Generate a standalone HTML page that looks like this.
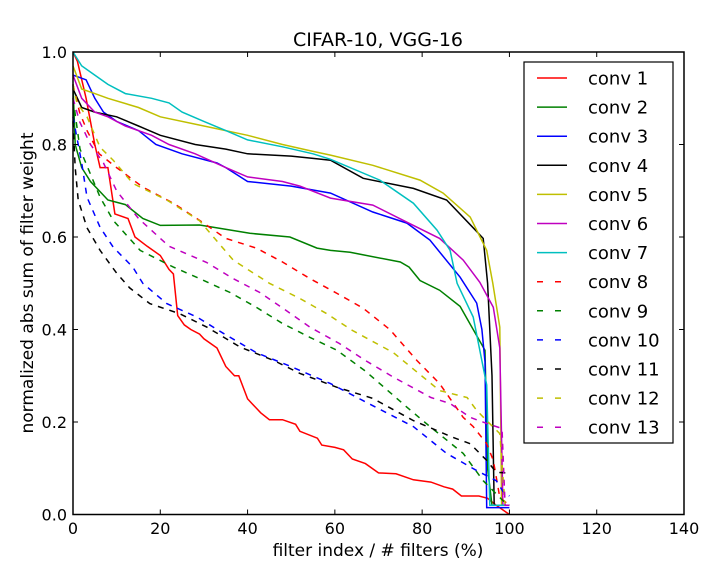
<!DOCTYPE html>
<html><head><meta charset="utf-8"><style>
html,body{margin:0;padding:0;background:#fff;}
svg text{font-family:"DejaVu Sans","Liberation Sans",sans-serif;fill:#000;}
</style></head><body>
<svg id="chart" width="720" height="563" viewBox="0 0 720 563" xmlns="http://www.w3.org/2000/svg">
<rect width="720" height="563" fill="#fff"/>
<text x="378" y="46" font-size="19" text-anchor="middle">CIFAR-10, VGG-16</text>
<text x="378" y="556" font-size="17" text-anchor="middle">filter index / # filters (%)</text>
<text transform="translate(33,283) rotate(-90)" font-size="17" text-anchor="middle">normalized abs sum of filter weight</text>
<g id="plot"></g>
<rect x="73" y="52" width="611" height="462.5" fill="none" stroke="#000" stroke-width="1.5"/>
<g id="ticks"></g>
<g id="legend"></g>
</svg>
<script>
const xTicks=[0,20,40,60,80,100,120,140];
const yTicks=[0.0,0.2,0.4,0.6,0.8,1.0];
const seriesNames=["conv 1","conv 2","conv 3","conv 4","conv 5","conv 6","conv 7","conv 8","conv 9","conv 10","conv 11","conv 12","conv 13"];
const seriesColors=["#ff0000","#008000","#0000ff","#000000","#bfbf00","#bf00bf","#00bfbf","#ff0000","#008000","#0000ff","#000000","#bfbf00","#bf00bf"];
const seriesDashed=[false,false,false,false,false,false,false,true,true,true,true,true,true];

const x1=[0,1,3,5,6.2,8,9.6,12.6,14.2,17,20,22,23,24,25.5,27,29,30,33,35,37,38,40,41,43,45,48,51,52,56,57,60,62,64,67,70,74,78,82,85,87,89,93,95,97,100];
const y1=[1.0,0.98,0.9,0.8,0.75,0.75,0.65,0.64,0.6,0.58,0.56,0.53,0.52,0.43,0.41,0.4,0.39,0.38,0.36,0.32,0.3,0.3,0.25,0.24,0.22,0.205,0.205,0.195,0.18,0.165,0.15,0.145,0.14,0.12,0.11,0.09,0.088,0.075,0.07,0.06,0.055,0.04,0.04,0.035,0.02,0.0];
const x2=[0,0.5,2,4,6,8,12,16,20,29,40.5,49.7,55.9,59,63.5,75,77,79.5,84,88.7,91.7,94.4,95,96,100];
const y2=[0.93,0.8,0.75,0.72,0.7,0.68,0.67,0.64,0.625,0.626,0.608,0.6,0.576,0.571,0.567,0.546,0.535,0.506,0.485,0.45,0.4,0.355,0.1,0.02,0.02];
const x3=[0,3,5,7,10,15,19,25,33,35,40,50,59,68.7,76.5,81.8,88.7,92.5,93.7,94.4,94.8,100];
const y3=[0.95,0.94,0.9,0.87,0.85,0.83,0.8,0.78,0.76,0.75,0.72,0.71,0.695,0.654,0.63,0.593,0.513,0.457,0.4,0.33,0.015,0.015];
const x4=[0,2,5,10,15,20,28,35,40,50,55,59,66.5,78,85.6,91.7,94,95,96,96.5,100];
const y4=[0.92,0.88,0.87,0.86,0.84,0.82,0.8,0.79,0.78,0.775,0.77,0.766,0.727,0.705,0.68,0.62,0.597,0.5,0.3,0.02,0.02];
const x5=[0,2,5,8,15,20,30,40,48,55,59,68.7,79.5,84.8,91,94.8,96.2,97.8,98.2,100];
const y5=[0.97,0.92,0.91,0.9,0.88,0.86,0.84,0.82,0.8,0.785,0.777,0.755,0.723,0.695,0.643,0.571,0.5,0.405,0.02,0.02];
const x6=[0,2,5,8,12,18,22,28,35,40,48,52,59,68.7,76.5,84,89.4,93.2,96.3,97.8,98.5,100];
const y6=[0.95,0.9,0.87,0.86,0.84,0.82,0.8,0.78,0.75,0.73,0.72,0.71,0.684,0.669,0.632,0.597,0.55,0.502,0.448,0.36,0.02,0.02];
const x7=[0,2,5,8,12,18,22,25,30,35,40,48,55,59,70.3,78,83.4,86.4,88,91.7,94.8,95.5,100];
const y7=[1.0,0.97,0.95,0.93,0.91,0.9,0.89,0.87,0.85,0.83,0.81,0.795,0.78,0.768,0.723,0.673,0.615,0.571,0.5,0.427,0.28,0.02,0.02];
const x8=[0,1.5,3.2,6,10,16,23,29,35,42,48,54.3,60.5,66.5,72.6,78.8,84,89.4,91.7,94.8,96.3,97.8,100];
const y8=[0.93,0.87,0.83,0.78,0.75,0.708,0.673,0.636,0.597,0.576,0.546,0.51,0.478,0.446,0.4,0.333,0.283,0.21,0.19,0.153,0.117,0.037,0.02];
const x9=[0,1.6,6.2,9.2,15.4,23,29,36,42,48,54.3,60.5,67,76.5,81.8,89.4,94,98.5,100];
const y9=[0.9,0.79,0.686,0.636,0.571,0.535,0.51,0.48,0.448,0.413,0.383,0.355,0.31,0.232,0.19,0.132,0.073,0.03,0.02];
const x10=[0,2,3.2,6.2,9.2,13.7,16,21.5,28.4,34.4,42,50.4,59,66.5,78,85.6,92.5,97,98.5,100];
const y10=[0.86,0.76,0.686,0.621,0.578,0.535,0.5,0.456,0.427,0.392,0.35,0.318,0.283,0.246,0.19,0.132,0.095,0.073,0.05,0.04];
const x11=[0,0.5,1.2,3.2,6.2,10,13,17.6,24.5,30.7,38.3,46,52,60.5,68.7,78,87,91,94.8,97,99.4];
const y11=[0.85,0.75,0.68,0.62,0.571,0.522,0.49,0.456,0.434,0.405,0.362,0.333,0.305,0.275,0.251,0.203,0.167,0.153,0.117,0.091,0.09];
const x12=[0,0.9,3.2,6.2,9.2,13.7,21.5,29,36.7,45,52,58,64,73.4,84,90.3,92.5,94.8,97.8,99,100];
const y12=[0.93,0.89,0.86,0.794,0.766,0.716,0.68,0.635,0.55,0.5,0.467,0.435,0.398,0.35,0.268,0.253,0.225,0.203,0.175,0.02,0.02];
const x13=[0,1.5,4,7,10,15,22,30.6,36.7,42.8,49,54.3,61,67,73.4,82,86.4,91,94.8,98.3,99,100];
const y13=[0.9,0.85,0.8,0.76,0.7,0.64,0.58,0.545,0.51,0.48,0.44,0.405,0.37,0.333,0.297,0.253,0.24,0.21,0.197,0.186,0.02,0.02];

const seriesX=[x1,x2,x3,x4,x5,x6,x7,x8,x9,x10,x11,x12,x13];
const seriesY=[y1,y2,y3,y4,y5,y6,y7,y8,y9,y10,y11,y12,y13];

const X0=73,X1=684,Y0=514.5,Y1=52;
function sx(v){return X0+(v-0)/(140-0)*(X1-X0);}
function sy(v){return Y0-(v-0)/(1-0)*(Y0-Y1);}
const NS="http://www.w3.org/2000/svg";
const plot=document.getElementById('plot');
for(let i=0;i<seriesX.length;i++){
  const p=document.createElementNS(NS,'path');
  let d='';
  for(let j=0;j<seriesX[i].length;j++){d+=(j?'L':'M')+sx(seriesX[i][j]).toFixed(1)+','+sy(seriesY[i][j]).toFixed(1);}
  p.setAttribute('d',d);
  p.setAttribute('fill','none');
  p.setAttribute('stroke',seriesColors[i]);
  p.setAttribute('stroke-width','1.5');
  if(seriesDashed[i])p.setAttribute('stroke-dasharray','6,6');
  
  
  plot.appendChild(p);
}
const tk=document.getElementById('ticks');
xTicks.forEach(v=>{
  const x=sx(v);
  [[Y0,Y0-5],[Y1,Y1+5]].forEach(a=>{
    const l=document.createElementNS(NS,'line');
    l.setAttribute('x1',x);l.setAttribute('x2',x);l.setAttribute('y1',a[0]);l.setAttribute('y2',a[1]);
    l.setAttribute('stroke','#000');
    
    
    tk.appendChild(l);
  });
  const t=document.createElementNS(NS,'text');
  t.setAttribute('x',x);t.setAttribute('y',534);t.setAttribute('font-size','16');t.setAttribute('text-anchor','middle');
  t.textContent=v;
  
  
  tk.appendChild(t);
});
yTicks.forEach(v=>{
  const y=sy(v);
  [[X0,X0+5],[X1,X1-5]].forEach(a=>{
    const l=document.createElementNS(NS,'line');
    l.setAttribute('x1',a[0]);l.setAttribute('x2',a[1]);l.setAttribute('y1',y);l.setAttribute('y2',y);
    l.setAttribute('stroke','#000');
    
    
    tk.appendChild(l);
  });
  const t=document.createElementNS(NS,'text');
  t.setAttribute('x',67);t.setAttribute('y',y+6);t.setAttribute('font-size','16');t.setAttribute('text-anchor','end');
  t.textContent=v.toFixed(1);
  
  
  tk.appendChild(t);
});
const lg=document.getElementById('legend');
const box=document.createElementNS(NS,'rect');
box.setAttribute('x',524);box.setAttribute('y',62);box.setAttribute('width',149);box.setAttribute('height',381);
box.setAttribute('fill','#fff');box.setAttribute('stroke','#000');box.setAttribute('stroke-width','1.2');


lg.appendChild(box);
seriesNames.forEach((n,i)=>{
  const y=78+i*29.1;
  const l=document.createElementNS(NS,'line');
  l.setAttribute('x1',537);l.setAttribute('x2',567);l.setAttribute('y1',y);l.setAttribute('y2',y);
  l.setAttribute('stroke',seriesColors[i]);l.setAttribute('stroke-width','1.5');
  if(seriesDashed[i])l.setAttribute('stroke-dasharray','6,12');
  
  
  lg.appendChild(l);
  const t=document.createElementNS(NS,'text');
  t.setAttribute('x',588);t.setAttribute('y',y+6.5);t.setAttribute('font-size','18');
  t.textContent=n;
  
  
  lg.appendChild(t);
});
</script>
</body></html>
